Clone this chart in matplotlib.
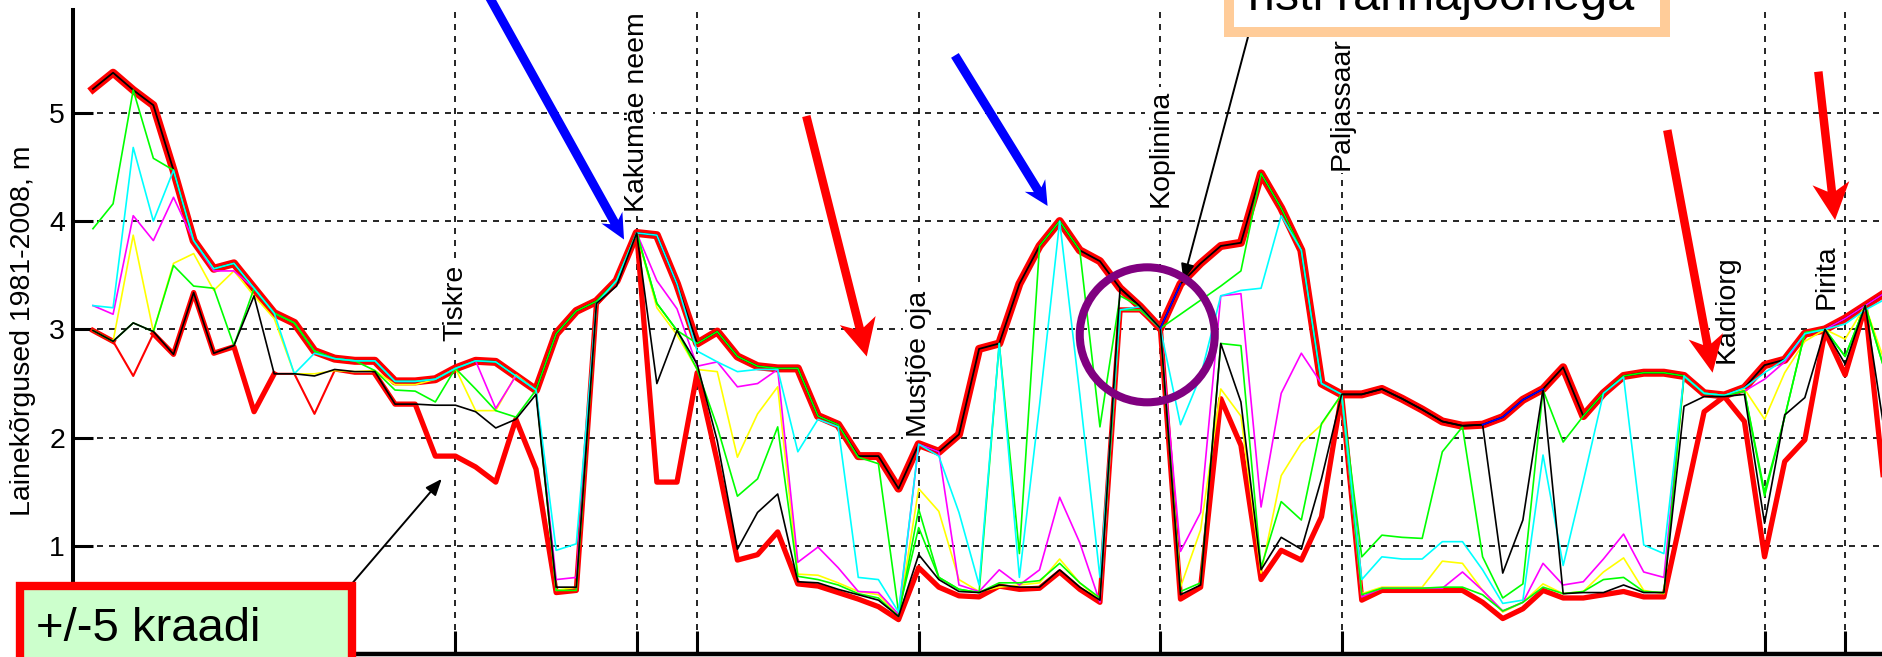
import numpy as np
import matplotlib.pyplot as plt
from matplotlib.patches import Ellipse, Polygon, Rectangle
from matplotlib.transforms import IdentityTransform

plt.rcParams["font.family"] = ["Liberation Sans", "DejaVu Sans"]

W, H = 1883, 657

# Coastal points along the Tallinn shoreline, west to east
station = np.arange(1, 91)

# Envelope of wave heights over the +/-5 degree direction fan
h_max = [5.22, 5.37, 5.21, 5.07, 4.47, 3.82, 3.56, 3.61, 3.38, 3.15,
         3.06, 2.80, 2.73, 2.71, 2.71, 2.52, 2.52, 2.54, 2.64, 2.71,
         2.70, 2.57, 2.44, 2.96, 3.17, 3.26, 3.45, 3.89, 3.87, 3.42,
         2.87, 2.98, 2.75, 2.66, 2.64, 2.64, 2.20, 2.12, 1.83, 1.83,
         1.53, 1.94, 1.87, 2.03, 2.82, 2.87, 3.42, 3.77, 4.00, 3.73,
         3.63, 3.38, 3.21, 3.01, 3.42, 3.61, 3.77, 3.80, 4.44, 4.12,
         3.73, 2.50, 2.40, 2.40, 2.45, 2.36, 2.26, 2.15, 2.11, 2.12,
         2.19, 2.35, 2.45, 2.65, 2.20, 2.41, 2.57, 2.60, 2.60, 2.57,
         2.41, 2.39, 2.46, 2.67, 2.72, 2.96, 3.00, 3.10, 3.22, 3.34]
h_min = [2.99, 2.89, 2.57, 2.96, 2.77, 3.34, 2.78, 2.84, 2.24, 2.59,
         2.59, 2.22, 2.62, 2.59, 2.59, 2.31, 2.31, 1.83, 1.83, 1.73,
         1.59, 2.17, 1.71, 0.57, 0.59, 3.24, 3.45, 3.89, 1.59, 1.59,
         2.60, 1.78, 0.87, 0.92, 1.13, 0.65, 0.63, 0.57, 0.51, 0.44,
         0.32, 0.80, 0.62, 0.54, 0.53, 0.63, 0.60, 0.61, 0.76, 0.60,
         0.48, 3.18, 3.18, 3.01, 0.51, 0.62, 2.36, 1.93, 0.69, 0.96,
         0.87, 1.27, 2.40, 0.50, 0.59, 0.59, 0.59, 0.59, 0.59, 0.48,
         0.33, 0.42, 0.59, 0.52, 0.52, 0.55, 0.58, 0.53, 0.53, 1.38,
         2.24, 2.38, 2.15, 0.90, 1.78, 1.98, 2.98, 2.58, 3.21, 1.45]

# Individual wind directions inside the fan
h_k = [2.99, 2.89, 3.06, 2.98, 2.77, 3.34, 2.78, 2.85, 3.31, 2.59,
       2.59, 2.57, 2.63, 2.61, 2.61, 2.31, 2.31, 2.30, 2.30, 2.24,
       2.09, 2.17, 2.40, 0.62, 0.62, 3.24, 3.40, 3.89, 2.50, 2.99,
       2.68, 1.97, 0.97, 1.31, 1.48, 0.67, 0.66, 0.60, 0.55, 0.50,
       0.35, 0.92, 0.69, 0.58, 0.57, 0.64, 0.62, 0.62, 0.78, 0.62,
       0.50, 3.38, 3.21, 3.01, 0.55, 0.64, 2.87, 2.33, 0.78, 1.08,
       0.97, 1.62, 2.40, 2.40, 2.45, 2.36, 2.26, 2.15, 2.11, 2.12,
       0.75, 1.24, 2.45, 0.56, 0.57, 0.57, 0.64, 0.57, 0.57, 2.29,
       2.38, 2.38, 2.40, 1.21, 2.21, 2.37, 3.00, 2.68, 3.22, 2.00]
h_g1 = [3.93, 4.16, 5.21, 4.58, 4.47, 3.82, 3.56, 3.61, 3.38, 3.15,
        3.06, 2.80, 2.73, 2.71, 2.71, 2.52, 2.52, 2.54, 2.64, 2.71,
        2.70, 2.57, 2.44, 2.96, 3.17, 3.26, 3.45, 3.89, 3.24, 2.99,
        2.87, 2.98, 2.75, 2.66, 2.64, 2.64, 2.20, 2.12, 1.82, 1.76,
        0.39, 1.17, 0.71, 0.60, 0.57, 2.87, 0.93, 3.77, 4.00, 3.73,
        2.10, 3.31, 3.21, 3.01, 3.14, 3.27, 3.40, 3.54, 4.44, 4.12,
        3.73, 2.50, 2.40, 0.90, 1.10, 1.08, 1.07, 1.87, 2.10, 0.90,
        0.52, 0.65, 2.44, 1.96, 2.20, 2.41, 2.57, 2.60, 2.60, 2.57,
        2.41, 2.39, 2.43, 1.50, 2.19, 2.97, 3.00, 2.75, 3.22, 2.60]
h_g2 = [2.99, 2.89, 3.06, 2.98, 3.59, 3.40, 3.38, 2.85, 3.38, 3.15,
        3.06, 2.80, 2.73, 2.71, 2.62, 2.44, 2.43, 2.33, 2.64, 2.45,
        2.25, 2.19, 2.44, 0.59, 0.59, 3.24, 3.45, 3.89, 3.24, 2.99,
        2.63, 2.10, 1.46, 1.62, 2.10, 0.72, 0.69, 0.64, 0.56, 0.52,
        0.35, 1.34, 0.71, 0.60, 0.57, 0.66, 0.66, 0.68, 0.84, 0.66,
        0.52, 3.18, 3.18, 3.01, 0.58, 0.66, 2.87, 2.85, 0.80, 1.41,
        1.24, 2.13, 2.40, 0.55, 0.61, 0.61, 0.61, 0.62, 0.62, 0.55,
        0.40, 0.48, 0.62, 0.56, 0.58, 0.69, 0.71, 0.58, 0.57, 2.57,
        2.41, 2.39, 2.43, 1.46, 2.19, 2.97, 3.00, 2.75, 3.22, 2.60]
h_c = [3.22, 3.20, 4.68, 4.00, 4.47, 3.82, 3.56, 3.61, 3.38, 3.15,
       2.59, 2.78, 2.73, 2.71, 2.71, 2.52, 2.52, 2.54, 2.64, 2.71,
       2.70, 2.57, 2.44, 0.96, 1.02, 3.24, 3.45, 3.89, 3.87, 3.42,
       2.80, 2.70, 2.61, 2.63, 2.63, 1.87, 2.17, 2.10, 0.71, 0.69,
       0.39, 1.94, 1.83, 1.31, 0.64, 2.87, 0.71, 2.30, 4.00, 2.40,
       0.71, 3.18, 3.21, 3.01, 2.12, 2.57, 3.31, 3.36, 3.38, 4.05,
       3.73, 2.50, 2.40, 0.69, 0.90, 0.88, 0.88, 1.04, 1.04, 0.78,
       0.47, 0.50, 1.84, 0.82, 1.60, 2.41, 2.56, 1.01, 0.93, 2.57,
       2.41, 2.39, 2.46, 2.60, 2.72, 2.96, 3.00, 3.05, 3.18, 3.28]
h_m = [3.22, 3.14, 4.05, 3.82, 4.22, 3.82, 3.54, 3.54, 3.38, 3.15,
       3.06, 2.80, 2.73, 2.71, 2.71, 2.52, 2.52, 2.54, 2.64, 2.71,
       2.27, 2.57, 2.44, 0.69, 0.71, 3.24, 3.45, 3.89, 3.45, 3.19,
       2.66, 2.70, 2.47, 2.50, 2.63, 0.85, 0.99, 0.80, 0.58, 0.57,
       0.37, 1.94, 1.87, 0.64, 0.58, 0.78, 0.64, 0.78, 1.45, 1.03,
       0.48, 3.18, 3.18, 3.01, 0.95, 1.31, 3.31, 3.33, 1.36, 2.41,
       2.78, 2.50, 2.40, 0.53, 0.61, 0.61, 0.61, 0.61, 0.76, 0.59,
       0.40, 0.48, 0.84, 0.64, 0.67, 0.88, 1.11, 0.76, 0.71, 2.57,
       2.41, 2.39, 2.43, 2.54, 2.70, 2.96, 3.00, 3.10, 3.22, 3.34]
h_y = [2.99, 2.89, 3.87, 2.98, 3.61, 3.70, 3.36, 3.54, 3.31, 3.10,
       2.59, 2.59, 2.62, 2.61, 2.62, 2.49, 2.49, 2.54, 2.64, 2.25,
       2.25, 2.58, 2.44, 0.59, 0.62, 3.24, 3.45, 3.89, 3.20, 2.95,
       2.63, 2.61, 1.82, 2.22, 2.47, 0.74, 0.73, 0.66, 0.58, 0.55,
       0.36, 1.53, 1.32, 0.69, 0.58, 0.62, 0.64, 0.66, 0.88, 0.66,
       0.50, 3.18, 3.18, 3.01, 0.62, 1.15, 2.45, 2.20, 0.75, 1.65,
       1.95, 2.12, 2.40, 0.56, 0.62, 0.62, 0.62, 0.86, 0.84, 0.59,
       0.39, 0.48, 0.65, 0.56, 0.58, 0.76, 0.89, 0.59, 0.56, 2.57,
       2.41, 2.39, 2.45, 2.17, 2.60, 2.89, 3.00, 2.91, 3.22, 2.68]
nan = np.nan
h_b = [nan] * 53 + [3.01, 3.42] + [nan] * 14 + [2.12, 2.19, 2.35, 2.45] + [nan] * 17

# stations where the minimum is only shown by the thin line
thin_min = [3, 11, 12, 13, 14]

grid_stations = [19, 28, 31, 42, 54, 63, 84, 88]
place_names = ["Tiskre", "Kakumäe neem", "Mustjõe oja", "Koplinina",
               "Paljassaar", "Kadriorg", "Pirita"]
place_x = [19, 28, 42, 54, 63, 82.1, 87.1]
place_y = [2.89, 4.08, 2.01, 4.13, 4.47, 2.69, 3.19]

# pixel geometry of the plotting area
x0, y_base, px_i, px_m = 72.8, 654.3, 20.14, 108.3

fig = plt.figure(figsize=(W / 100, H / 100), dpi=100)
ax = fig.add_axes([x0 / W, (H - y_base) / H, 95 * px_i / W, 5.95 * px_m / H])
ax.set_xlim(0, 95)
ax.set_ylim(0, 5.95)

# envelopes
ax.plot(station, h_max, color="#ff0000", lw=5.8, zorder=2)
ax.plot(station, h_min, color="#ff0000", lw=1.5, zorder=2.2)
h_min_thick = np.array(h_min, float)
h_min_thick[np.isin(station, thin_min)] = np.nan
ax.plot(station, h_min_thick, color="#ff0000", lw=3.8, zorder=2.1)
ax.plot(station, h_max, color="black", lw=1.3, zorder=2.5)

# single directions
for vals, col, z in [(h_y, "#ffff00", 3.0), (h_m, "#ff00ff", 3.1),
                     (h_g2, "#00ff00", 3.2), (h_g1, "#00ff00", 3.3),
                     (h_c, "#00ffff", 3.4), (h_k, "black", 3.5),
                     (h_b, "#0000ff", 3.6)]:
    ax.plot(station, vals, color=col, lw=1.2, zorder=z)

# axes styling, MATLAB look
ax.set_xticks(grid_stations)
ax.set_xticklabels([])
ax.set_yticks([1, 2, 3, 4, 5])
ax.set_axisbelow(True)
ax.grid(True, color="black", lw=1.2, linestyle=(0, (3.6, 3.6)))
for s in ("top", "right"):
    ax.spines[s].set_visible(False)
ax.spines["left"].set_linewidth(2.9)
ax.spines["bottom"].set_linewidth(3.2)
ax.tick_params(axis="both", direction="in", width=2.2, colors="black")
ax.tick_params(axis="x", length=16.5)
ax.tick_params(axis="y", length=14.4, labelsize=20.5, pad=5.6)

fig.text(23.5 / W, 1 - 330.5 / H, "Lainekõrgused 1981-2008, m", rotation=90,
         ha="center", va="center", fontsize=20.5)

for name, xs, ys in zip(place_names, place_x, place_y):
    ax.text(xs, ys, name, rotation=90, ha="center", va="bottom", fontsize=20.5,
            zorder=1.5, bbox=dict(boxstyle="square,pad=0.1", fc="white", ec="none"))

# circled spot near Koplinina
ax.add_patch(Ellipse((53.35, 2.95), width=2 * 67.5 / px_i, height=2 * 67.5 / px_m,
                     fill=False, ec="#800080", lw=5.8, zorder=6))


def block_arrow(tail, tip, shaft, head_len, head_w, notch, color):
    p0 = ax.transData.transform(tail)
    p1 = ax.transData.transform(tip)
    u = (p1 - p0) / np.hypot(*(p1 - p0))
    n = np.array([-u[1], u[0]])
    base = p1 - u * head_len
    neck = base + u * notch
    pts = [p0 + n * shaft / 2, neck + n * shaft / 2, base + n * head_w / 2, p1,
           base - n * head_w / 2, neck - n * shaft / 2, p0 - n * shaft / 2]
    fig.add_artist(Polygon(pts, closed=True, transform=IdentityTransform(),
                           fc=color, ec="none", zorder=5))


block_arrow((20.62, 6.09), (27.37, 3.83), 9, 25, 24, 5, "#0000ff")
block_arrow((43.80, 5.53), (48.40, 4.14), 9, 24, 24, 5, "#0000ff")
block_arrow((36.42, 4.97), (39.42, 2.75), 8.5, 37, 37, 8, "#ff0000")
block_arrow((79.17, 4.84), (81.42, 2.60), 8.5, 37, 35, 8, "#ff0000")
block_arrow((86.67, 5.38), (87.50, 4.01), 8.5, 37, 37, 8, "#ff0000")

for tail, tip in [((13.85, 0.65), (18.32, 1.62)), ((58.35, 5.70), (55.14, 3.45))]:
    ax.annotate("", xy=tip, xytext=tail, annotation_clip=False,
                arrowprops=dict(arrowstyle="-|>,head_length=10,head_width=4",
                                mutation_scale=1, lw=1.4, color="black",
                                shrinkA=0, shrinkB=0))

# callout boxes
fig.add_artist(Rectangle((20.4 / W, 1 - 700 / H), 331.6 / W, 114 / H,
                         transform=fig.transFigure, fc="#ccffcc", ec="#ff0000",
                         lw=6, zorder=7))
fig.text(36 / W, 1 - 640.7 / H, "+/-5 kraadi", fontsize=34, ha="left",
         va="baseline", zorder=8)
fig.add_artist(Rectangle((1229.5 / W, 1 - 32 / H), 436 / W, 100 / H,
                         transform=fig.transFigure, fc="white", ec="#ffcc99",
                         lw=7.2, zorder=7))
fig.text(1248 / W, 1 - 10 / H, "risti rannajoonega", fontsize=35, ha="left",
         va="baseline", zorder=8)

fig.savefig("out.png", dpi=100)
